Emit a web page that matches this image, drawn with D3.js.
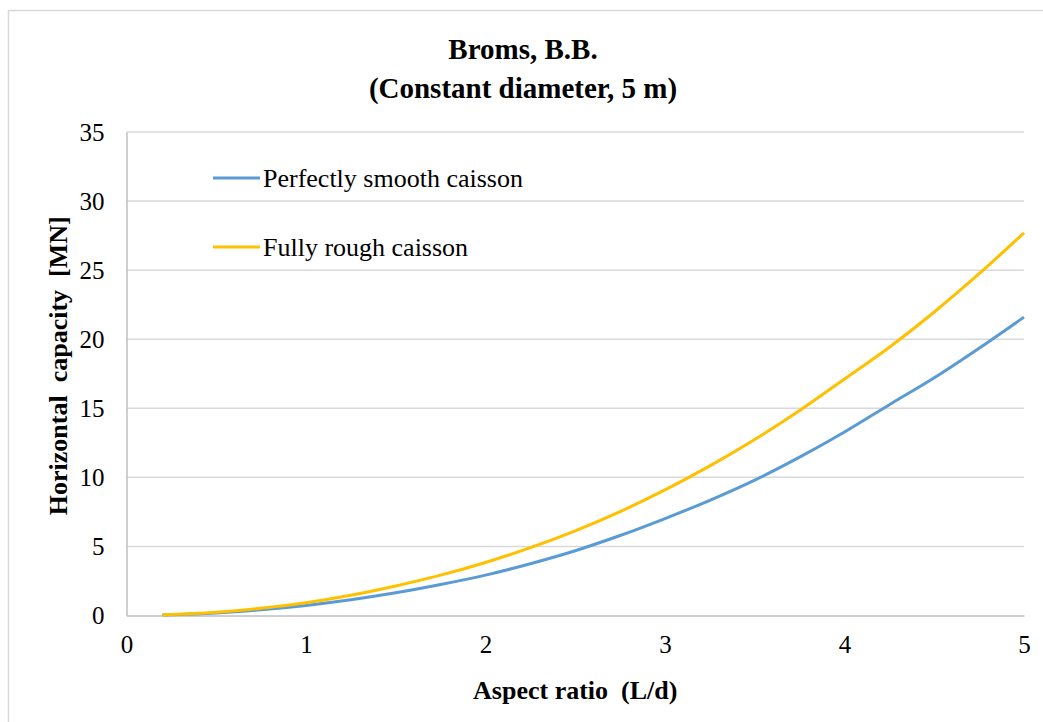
<!DOCTYPE html>
<html>
<head>
<meta charset="utf-8">
<script src="https://cdn.jsdelivr.net/npm/d3@7"></script>
<style>
  body { margin: 0; background: #fff; }
  text { font-family: "Liberation Serif", "Times New Roman", serif; }
</style>
</head>
<body>
<div id="chart"></div>
<script>
// aspect ratio values (L/d)
var ratios = [0.2, 0.5, 0.75, 1, 1.25, 1.5, 1.75, 2, 2.25, 2.5, 2.75, 3,
  3.25, 3.5, 3.75, 4, 4.25, 4.5, 4.75, 5];
// horizontal capacity [MN]
var smooth = [0.03, 0.18, 0.41, 0.73, 1.14, 1.64, 2.24, 2.92, 3.75, 4.69, 5.79, 7.02,
  8.34, 9.80, 11.46, 13.28, 15.26, 17.21, 19.35, 21.6];
var rough = [0.04, 0.23, 0.52, 0.93, 1.47, 2.14, 2.92, 3.84, 4.91, 6.13, 7.52, 9.09,
  10.83, 12.74, 14.84, 17.12, 19.42, 21.97, 24.74, 27.7];
var seriesNames = ["Perfectly smooth caisson", "Fully rough caisson"];
var seriesColors = ["#5B9BD5", "#FFC000"];
var xTicks = [0, 1, 2, 3, 4, 5];
var yTicks = [0, 5, 10, 15, 20, 25, 30, 35];

// svg container
var svgWidth = 1043;
var svgHeight = 722;

// plot area
var margin = { top: 132, right: 19, bottom: 106.5, left: 126.5 };
var width = svgWidth - margin.left - margin.right;
var height = svgHeight - margin.top - margin.bottom;

var svg = d3.select("#chart")
  .append("svg")
  .attr("width", svgWidth)
  .attr("height", svgHeight);

// outer chart border
svg.append("rect")
  .attr("x", 8.5)
  .attr("y", 10.5)
  .attr("width", svgWidth)
  .attr("height", svgHeight)
  .attr("fill", "none")
  .attr("stroke", "#D9D9D9")
  .attr("stroke-width", 1.5);

// title
svg.append("text")
  .attr("x", 523)
  .attr("y", 59)
  .attr("text-anchor", "middle")
  .attr("font-size", "29px")
  .attr("font-weight", "bold")
  .text("Broms, B.B.");
svg.append("text")
  .attr("x", 523)
  .attr("y", 98)
  .attr("text-anchor", "middle")
  .attr("font-size", "29px")
  .attr("font-weight", "bold")
  .text("(Constant diameter, 5 m)");

var chartGroup = svg.append("g")
  .attr("transform", `translate(${margin.left}, ${margin.top})`);

var xScale = d3.scaleLinear().domain([0, 5]).range([0, width]);
var yScale = d3.scaleLinear().domain([0, 35]).range([height, 0]);

// gridlines
chartGroup.append("g")
  .selectAll("line")
  .data(yTicks.filter(d => d > 0))
  .enter()
  .append("line")
  .attr("x1", 0)
  .attr("x2", width)
  .attr("y1", d => yScale(d))
  .attr("y2", d => yScale(d))
  .attr("stroke", "#D9D9D9")
  .attr("stroke-width", 1.5);

// axes
var leftAxis = d3.axisLeft(yScale).tickValues(yTicks).tickSize(0).tickPadding(22)
  .tickFormat(d3.format("d"));
var bottomAxis = d3.axisBottom(xScale).tickValues(xTicks).tickSize(0).tickPadding(20)
  .tickFormat(d3.format("d"));

var yAxisG = chartGroup.append("g").call(leftAxis);
var xAxisG = chartGroup.append("g")
  .attr("transform", `translate(0, ${height})`)
  .call(bottomAxis);

[yAxisG, xAxisG].forEach(function(g) {
  g.select(".domain").attr("stroke", "#BFBFBF").attr("stroke-width", 1.5);
  g.selectAll("text")
    .attr("font-family", "Liberation Serif, serif")
    .attr("font-size", "25px")
    .attr("fill", "#000");
});

// axis titles
chartGroup.append("text")
  .attr("x", width / 2)
  .attr("y", height + 83)
  .attr("text-anchor", "middle")
  .attr("font-size", "26px")
  .attr("font-weight", "bold")
  .attr("xml:space", "preserve")
  .text("Aspect ratio  (L/d)");

chartGroup.append("text")
  .attr("transform", "rotate(-90)")
  .attr("x", -(height / 2) + 8)
  .attr("y", -60)
  .attr("text-anchor", "middle")
  .attr("font-size", "26px")
  .attr("font-weight", "bold")
  .attr("xml:space", "preserve")
  .text("Horizontal  capacity  [MN]");

// curves
var line = d3.line()
  .x(d => xScale(d[0]))
  .y(d => yScale(d[1]))
  .curve(d3.curveMonotoneX);

[smooth, rough].forEach(function(vals, i) {
  chartGroup.append("path")
    .datum(ratios.map((r, j) => [r, vals[j]]))
    .attr("d", line)
    .attr("fill", "none")
    .attr("stroke", seriesColors[i])
    .attr("stroke-width", 3);
});

// legend
var legend = svg.append("g");
seriesNames.forEach(function(name, i) {
  var ly = 178 + i * 69;
  legend.append("line")
    .attr("x1", 213)
    .attr("x2", 260)
    .attr("y1", ly)
    .attr("y2", ly)
    .attr("stroke", seriesColors[i])
    .attr("stroke-width", 3);
  legend.append("text")
    .attr("x", 263)
    .attr("y", ly + 9)
    .attr("font-size", "26px")
    .attr("fill", "#000")
    .text(name);
});
</script>
</body>
</html>
